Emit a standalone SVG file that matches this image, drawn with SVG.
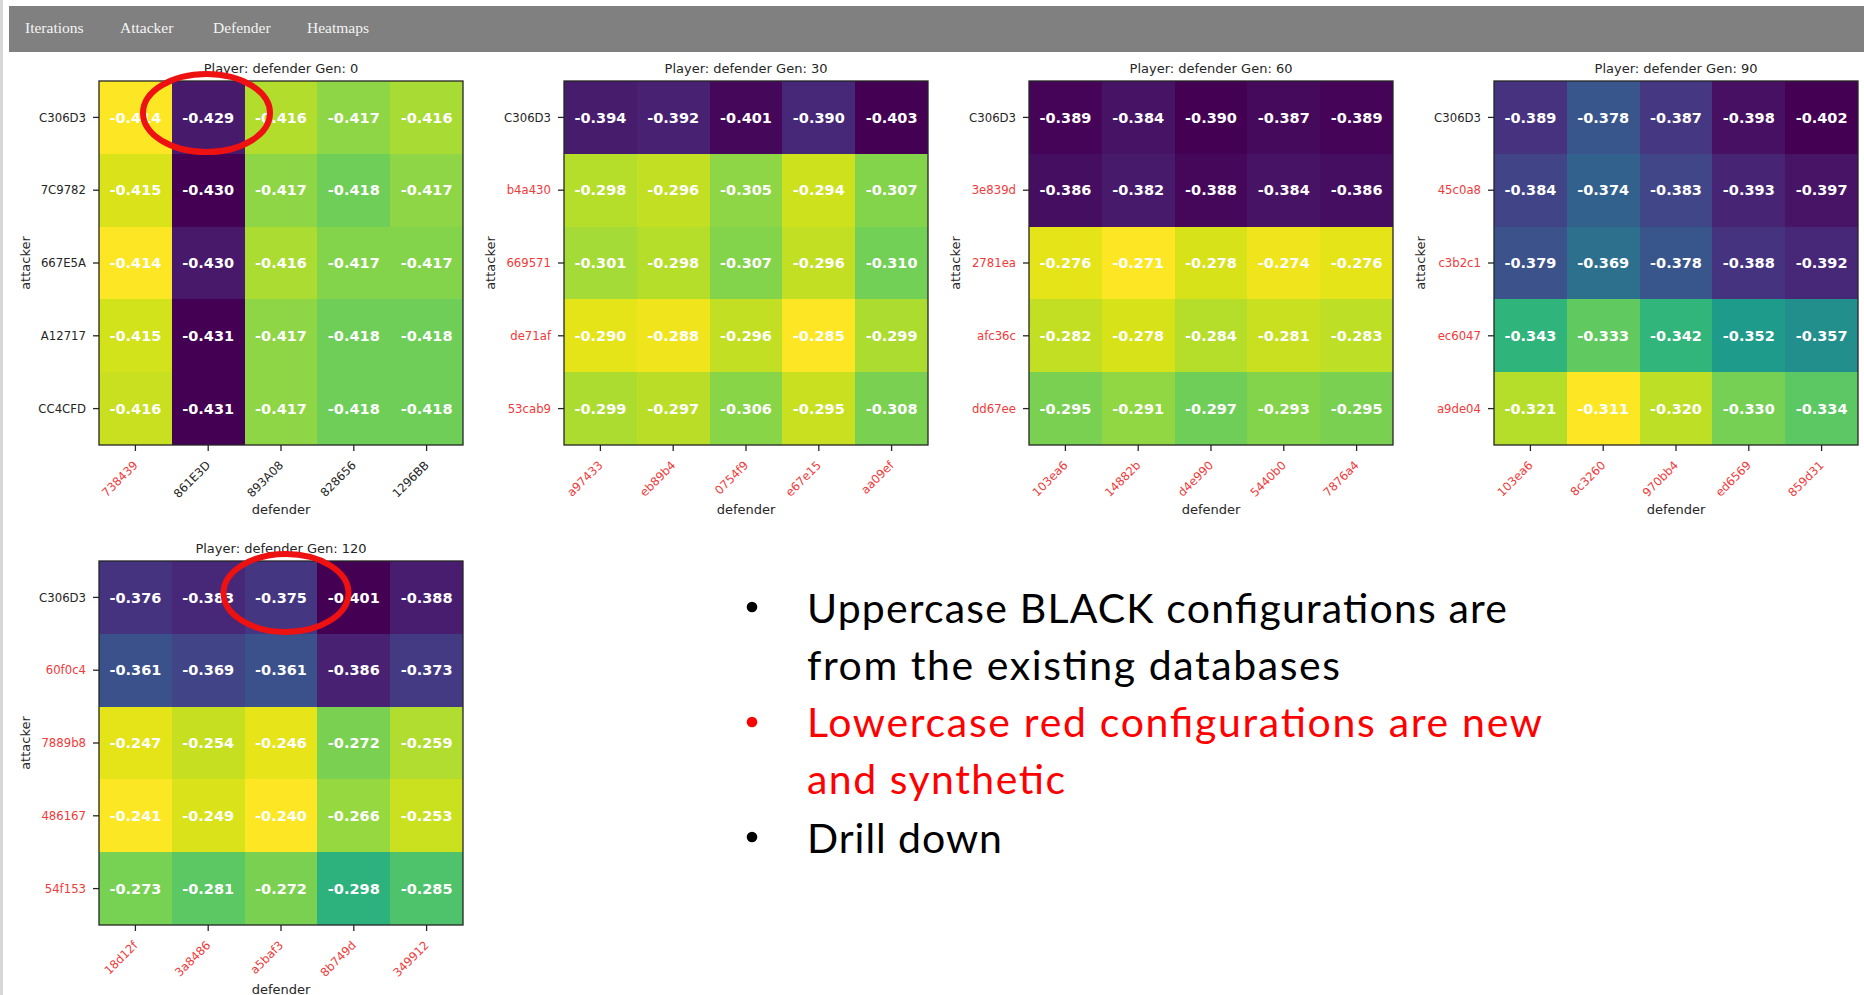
<svg xmlns="http://www.w3.org/2000/svg" width="1864" height="995" viewBox="0 0 1864 995">
<style>
.nav{font-family:"Liberation Serif",serif;font-size:15.5px;fill:#f4f4f4}
.v{font-family:"DejaVu Sans",sans-serif;font-weight:bold;font-size:14.5px;fill:#ffffff;text-anchor:middle}
.t{font-family:"DejaVu Sans",sans-serif;font-size:13px;fill:#262626;text-anchor:middle}
.ax{font-family:"DejaVu Sans",sans-serif;font-size:13px;fill:#262626;text-anchor:middle}
.rl{font-family:"DejaVu Sans",sans-serif;font-size:11.7px;fill:#262626;text-anchor:end}
.cl{font-family:"DejaVu Sans",sans-serif;font-size:11.7px;fill:#262626;text-anchor:end}
.red{fill:#f03a3a}
.frame{fill:none;stroke:#262626;stroke-width:1.3}
.tick{stroke:#262626;stroke-width:1.3}
.c rect{shape-rendering:crispEdges}
.ring{fill:none;stroke:#ee1111;stroke-width:6}
.b{font-family:Lato,"Open Sans",sans-serif;font-size:41px;fill:#000000}
.br{fill:#ff0000}
</style>
<defs>
<g id="ticks">
<line class="tick" x1="-6" y1="36.4" x2="0" y2="36.4"/>
<line class="tick" x1="-6" y1="109.2" x2="0" y2="109.2"/>
<line class="tick" x1="-6" y1="182" x2="0" y2="182"/>
<line class="tick" x1="-6" y1="254.8" x2="0" y2="254.8"/>
<line class="tick" x1="-6" y1="327.6" x2="0" y2="327.6"/>
<line class="tick" x1="36.4" y1="364" x2="36.4" y2="370"/>
<line class="tick" x1="109.2" y1="364" x2="109.2" y2="370"/>
<line class="tick" x1="182" y1="364" x2="182" y2="370"/>
<line class="tick" x1="254.8" y1="364" x2="254.8" y2="370"/>
<line class="tick" x1="327.6" y1="364" x2="327.6" y2="370"/>
<rect class="frame" x="0" y="0" width="364" height="364"/>
<text class="ax" x="182" y="433">defender</text>
<text class="ax" transform="translate(-69,182) rotate(-90)">attacker</text>
</g>
</defs>
<rect x="0" y="0" width="1864" height="995" fill="#ffffff"/>
<rect x="0" y="0" width="3" height="995" fill="#d6d6d6"/>
<g id="navbar">
<rect x="9" y="6" width="1855" height="46" fill="#808080"/>
<text class="nav" x="25" y="32.5">Iterations</text>
<text class="nav" x="120" y="32.5">Attacker</text>
<text class="nav" x="213" y="32.5">Defender</text>
<text class="nav" x="307" y="32.5">Heatmaps</text>
</g>

<g id="heatmap-gen0" transform="translate(99,81)">
<text class="t" x="182" y="-8.5">Player: defender Gen: 0</text>
<g class="c">
<rect x="0" y="0" width="73.3" height="73.3" fill="#fde725"/><rect x="72.8" y="0" width="73.3" height="73.3" fill="#481a6c"/><rect x="145.6" y="0" width="73.3" height="73.3" fill="#b2dd2d"/><rect x="218.4" y="0" width="73.3" height="73.3" fill="#8ed645"/><rect x="291.2" y="0" width="72.8" height="73.3" fill="#a8db34"/>
<rect x="0" y="72.8" width="73.3" height="73.3" fill="#dae319"/><rect x="72.8" y="72.8" width="73.3" height="73.3" fill="#440154"/><rect x="145.6" y="72.8" width="73.3" height="73.3" fill="#8ed645"/><rect x="218.4" y="72.8" width="73.3" height="73.3" fill="#6ece58"/><rect x="291.2" y="72.8" width="72.8" height="73.3" fill="#8ed645"/>
<rect x="0" y="145.6" width="73.3" height="73.3" fill="#fde725"/><rect x="72.8" y="145.6" width="73.3" height="73.3" fill="#48186a"/><rect x="145.6" y="145.6" width="73.3" height="73.3" fill="#aadc32"/><rect x="218.4" y="145.6" width="73.3" height="73.3" fill="#84d44b"/><rect x="291.2" y="145.6" width="72.8" height="73.3" fill="#84d44b"/>
<rect x="0" y="218.4" width="73.3" height="73.3" fill="#d2e21b"/><rect x="72.8" y="218.4" width="73.3" height="73.3" fill="#440154"/><rect x="145.6" y="218.4" width="73.3" height="73.3" fill="#8ed645"/><rect x="218.4" y="218.4" width="73.3" height="73.3" fill="#6ece58"/><rect x="291.2" y="218.4" width="72.8" height="73.3" fill="#6ece58"/>
<rect x="0" y="291.2" width="73.3" height="72.8" fill="#c8e020"/><rect x="72.8" y="291.2" width="73.3" height="72.8" fill="#440154"/><rect x="145.6" y="291.2" width="73.3" height="72.8" fill="#8ed645"/><rect x="218.4" y="291.2" width="73.3" height="72.8" fill="#6ece58"/><rect x="291.2" y="291.2" width="72.8" height="72.8" fill="#6ece58"/>
</g>
<text class="v" x="36.4" y="41.6">-0.414</text><text class="v" x="109.2" y="41.6">-0.429</text><text class="v" x="182" y="41.6">-0.416</text><text class="v" x="254.8" y="41.6">-0.417</text><text class="v" x="327.6" y="41.6">-0.416</text>
<text class="v" x="36.4" y="114.4">-0.415</text><text class="v" x="109.2" y="114.4">-0.430</text><text class="v" x="182" y="114.4">-0.417</text><text class="v" x="254.8" y="114.4">-0.418</text><text class="v" x="327.6" y="114.4">-0.417</text>
<text class="v" x="36.4" y="187.2">-0.414</text><text class="v" x="109.2" y="187.2">-0.430</text><text class="v" x="182" y="187.2">-0.416</text><text class="v" x="254.8" y="187.2">-0.417</text><text class="v" x="327.6" y="187.2">-0.417</text>
<text class="v" x="36.4" y="260">-0.415</text><text class="v" x="109.2" y="260">-0.431</text><text class="v" x="182" y="260">-0.417</text><text class="v" x="254.8" y="260">-0.418</text><text class="v" x="327.6" y="260">-0.418</text>
<text class="v" x="36.4" y="332.8">-0.416</text><text class="v" x="109.2" y="332.8">-0.431</text><text class="v" x="182" y="332.8">-0.417</text><text class="v" x="254.8" y="332.8">-0.418</text><text class="v" x="327.6" y="332.8">-0.418</text>
<use href="#ticks"/>
<text class="rl" x="-13" y="40.6">C306D3</text><text class="rl" x="-13" y="113.4">7C9782</text><text class="rl" x="-13" y="186.2">667E5A</text><text class="rl" x="-13" y="259">A12717</text><text class="rl" x="-13" y="331.8">CC4CFD</text>
<text class="cl red" transform="translate(39.4,385) rotate(-45)">738439</text>
<text class="cl" transform="translate(112.2,385) rotate(-45)">861E3D</text>
<text class="cl" transform="translate(185,385) rotate(-45)">893A08</text>
<text class="cl" transform="translate(257.8,385) rotate(-45)">828656</text>
<text class="cl" transform="translate(330.6,385) rotate(-45)">1296BB</text>
</g>

<g id="heatmap-gen30" transform="translate(564,81)">
<text class="t" x="182" y="-8.5">Player: defender Gen: 30</text>
<g class="c">
<rect x="0" y="0" width="73.3" height="73.3" fill="#481c6d"/><rect x="72.8" y="0" width="73.3" height="73.3" fill="#482172"/><rect x="145.6" y="0" width="73.3" height="73.3" fill="#45075a"/><rect x="218.4" y="0" width="73.3" height="73.3" fill="#472777"/><rect x="291.2" y="0" width="72.8" height="73.3" fill="#440154"/>
<rect x="0" y="72.8" width="73.3" height="73.3" fill="#b5de2b"/><rect x="72.8" y="72.8" width="73.3" height="73.3" fill="#c2df23"/><rect x="145.6" y="72.8" width="73.3" height="73.3" fill="#8ed645"/><rect x="218.4" y="72.8" width="73.3" height="73.3" fill="#cde11d"/><rect x="291.2" y="72.8" width="72.8" height="73.3" fill="#84d44b"/>
<rect x="0" y="145.6" width="73.3" height="73.3" fill="#a5db36"/><rect x="72.8" y="145.6" width="73.3" height="73.3" fill="#b5de2b"/><rect x="145.6" y="145.6" width="73.3" height="73.3" fill="#84d44b"/><rect x="218.4" y="145.6" width="73.3" height="73.3" fill="#c2df23"/><rect x="291.2" y="145.6" width="72.8" height="73.3" fill="#73d056"/>
<rect x="0" y="218.4" width="73.3" height="73.3" fill="#e5e419"/><rect x="72.8" y="218.4" width="73.3" height="73.3" fill="#f0e51c"/><rect x="145.6" y="218.4" width="73.3" height="73.3" fill="#c2df23"/><rect x="218.4" y="218.4" width="73.3" height="73.3" fill="#fde725"/><rect x="291.2" y="218.4" width="72.8" height="73.3" fill="#addc30"/>
<rect x="0" y="291.2" width="73.3" height="72.8" fill="#addc30"/><rect x="72.8" y="291.2" width="73.3" height="72.8" fill="#bade28"/><rect x="145.6" y="291.2" width="73.3" height="72.8" fill="#89d548"/><rect x="218.4" y="291.2" width="73.3" height="72.8" fill="#c8e020"/><rect x="291.2" y="291.2" width="72.8" height="72.8" fill="#7ad151"/>
</g>
<text class="v" x="36.4" y="41.6">-0.394</text><text class="v" x="109.2" y="41.6">-0.392</text><text class="v" x="182" y="41.6">-0.401</text><text class="v" x="254.8" y="41.6">-0.390</text><text class="v" x="327.6" y="41.6">-0.403</text>
<text class="v" x="36.4" y="114.4">-0.298</text><text class="v" x="109.2" y="114.4">-0.296</text><text class="v" x="182" y="114.4">-0.305</text><text class="v" x="254.8" y="114.4">-0.294</text><text class="v" x="327.6" y="114.4">-0.307</text>
<text class="v" x="36.4" y="187.2">-0.301</text><text class="v" x="109.2" y="187.2">-0.298</text><text class="v" x="182" y="187.2">-0.307</text><text class="v" x="254.8" y="187.2">-0.296</text><text class="v" x="327.6" y="187.2">-0.310</text>
<text class="v" x="36.4" y="260">-0.290</text><text class="v" x="109.2" y="260">-0.288</text><text class="v" x="182" y="260">-0.296</text><text class="v" x="254.8" y="260">-0.285</text><text class="v" x="327.6" y="260">-0.299</text>
<text class="v" x="36.4" y="332.8">-0.299</text><text class="v" x="109.2" y="332.8">-0.297</text><text class="v" x="182" y="332.8">-0.306</text><text class="v" x="254.8" y="332.8">-0.295</text><text class="v" x="327.6" y="332.8">-0.308</text>
<use href="#ticks"/>
<text class="rl" x="-13" y="40.6">C306D3</text><text class="rl red" x="-13" y="113.4">b4a430</text><text class="rl red" x="-13" y="186.2">669571</text><text class="rl red" x="-13" y="259">de71af</text><text class="rl red" x="-13" y="331.8">53cab9</text>
<text class="cl red" transform="translate(39.4,385) rotate(-45)">a97433</text>
<text class="cl red" transform="translate(112.2,385) rotate(-45)">eb89b4</text>
<text class="cl red" transform="translate(185,385) rotate(-45)">0754f9</text>
<text class="cl red" transform="translate(257.8,385) rotate(-45)">e67e15</text>
<text class="cl red" transform="translate(330.6,385) rotate(-45)">aa09ef</text>
</g>

<g id="heatmap-gen60" transform="translate(1029,81)">
<text class="t" x="182" y="-8.5">Player: defender Gen: 60</text>
<g class="c">
<rect x="0" y="0" width="73.3" height="73.3" fill="#450457"/><rect x="72.8" y="0" width="73.3" height="73.3" fill="#471365"/><rect x="145.6" y="0" width="73.3" height="73.3" fill="#440154"/><rect x="218.4" y="0" width="73.3" height="73.3" fill="#460a5d"/><rect x="291.2" y="0" width="72.8" height="73.3" fill="#450457"/>
<rect x="0" y="72.8" width="73.3" height="73.3" fill="#460e61"/><rect x="72.8" y="72.8" width="73.3" height="73.3" fill="#481a6c"/><rect x="145.6" y="72.8" width="73.3" height="73.3" fill="#45075a"/><rect x="218.4" y="72.8" width="73.3" height="73.3" fill="#471365"/><rect x="291.2" y="72.8" width="72.8" height="73.3" fill="#460e61"/>
<rect x="0" y="145.6" width="73.3" height="73.3" fill="#e5e419"/><rect x="72.8" y="145.6" width="73.3" height="73.3" fill="#fde725"/><rect x="145.6" y="145.6" width="73.3" height="73.3" fill="#d8e219"/><rect x="218.4" y="145.6" width="73.3" height="73.3" fill="#f0e51c"/><rect x="291.2" y="145.6" width="72.8" height="73.3" fill="#e5e419"/>
<rect x="0" y="218.4" width="73.3" height="73.3" fill="#c2df23"/><rect x="72.8" y="218.4" width="73.3" height="73.3" fill="#d8e219"/><rect x="145.6" y="218.4" width="73.3" height="73.3" fill="#b5de2b"/><rect x="218.4" y="218.4" width="73.3" height="73.3" fill="#c8e020"/><rect x="291.2" y="218.4" width="72.8" height="73.3" fill="#bddf26"/>
<rect x="0" y="291.2" width="73.3" height="72.8" fill="#7ad151"/><rect x="72.8" y="291.2" width="73.3" height="72.8" fill="#90d743"/><rect x="145.6" y="291.2" width="73.3" height="72.8" fill="#6ece58"/><rect x="218.4" y="291.2" width="73.3" height="72.8" fill="#84d44b"/><rect x="291.2" y="291.2" width="72.8" height="72.8" fill="#7ad151"/>
</g>
<text class="v" x="36.4" y="41.6">-0.389</text><text class="v" x="109.2" y="41.6">-0.384</text><text class="v" x="182" y="41.6">-0.390</text><text class="v" x="254.8" y="41.6">-0.387</text><text class="v" x="327.6" y="41.6">-0.389</text>
<text class="v" x="36.4" y="114.4">-0.386</text><text class="v" x="109.2" y="114.4">-0.382</text><text class="v" x="182" y="114.4">-0.388</text><text class="v" x="254.8" y="114.4">-0.384</text><text class="v" x="327.6" y="114.4">-0.386</text>
<text class="v" x="36.4" y="187.2">-0.276</text><text class="v" x="109.2" y="187.2">-0.271</text><text class="v" x="182" y="187.2">-0.278</text><text class="v" x="254.8" y="187.2">-0.274</text><text class="v" x="327.6" y="187.2">-0.276</text>
<text class="v" x="36.4" y="260">-0.282</text><text class="v" x="109.2" y="260">-0.278</text><text class="v" x="182" y="260">-0.284</text><text class="v" x="254.8" y="260">-0.281</text><text class="v" x="327.6" y="260">-0.283</text>
<text class="v" x="36.4" y="332.8">-0.295</text><text class="v" x="109.2" y="332.8">-0.291</text><text class="v" x="182" y="332.8">-0.297</text><text class="v" x="254.8" y="332.8">-0.293</text><text class="v" x="327.6" y="332.8">-0.295</text>
<use href="#ticks"/>
<text class="rl" x="-13" y="40.6">C306D3</text><text class="rl red" x="-13" y="113.4">3e839d</text><text class="rl red" x="-13" y="186.2">2781ea</text><text class="rl red" x="-13" y="259">afc36c</text><text class="rl red" x="-13" y="331.8">dd67ee</text>
<text class="cl red" transform="translate(39.4,385) rotate(-45)">103ea6</text>
<text class="cl red" transform="translate(112.2,385) rotate(-45)">14882b</text>
<text class="cl red" transform="translate(185,385) rotate(-45)">d4e990</text>
<text class="cl red" transform="translate(257.8,385) rotate(-45)">5440b0</text>
<text class="cl red" transform="translate(330.6,385) rotate(-45)">7876a4</text>
</g>

<g id="heatmap-gen90" transform="translate(1494,81)">
<text class="t" x="182" y="-8.5">Player: defender Gen: 90</text>
<g class="c">
<rect x="0" y="0" width="73.3" height="73.3" fill="#46327e"/><rect x="72.8" y="0" width="73.3" height="73.3" fill="#39568c"/><rect x="145.6" y="0" width="73.3" height="73.3" fill="#453781"/><rect x="218.4" y="0" width="73.3" height="73.3" fill="#471063"/><rect x="291.2" y="0" width="72.8" height="73.3" fill="#440154"/>
<rect x="0" y="72.8" width="73.3" height="73.3" fill="#414487"/><rect x="72.8" y="72.8" width="73.3" height="73.3" fill="#33618d"/><rect x="145.6" y="72.8" width="73.3" height="73.3" fill="#404688"/><rect x="218.4" y="72.8" width="73.3" height="73.3" fill="#482475"/><rect x="291.2" y="72.8" width="72.8" height="73.3" fill="#471466"/>
<rect x="0" y="145.6" width="73.3" height="73.3" fill="#3b528b"/><rect x="72.8" y="145.6" width="73.3" height="73.3" fill="#2d708e"/><rect x="145.6" y="145.6" width="73.3" height="73.3" fill="#39568c"/><rect x="218.4" y="145.6" width="73.3" height="73.3" fill="#46337f"/><rect x="291.2" y="145.6" width="72.8" height="73.3" fill="#472777"/>
<rect x="0" y="218.4" width="73.3" height="73.3" fill="#2fb47c"/><rect x="72.8" y="218.4" width="73.3" height="73.3" fill="#60ca60"/><rect x="145.6" y="218.4" width="73.3" height="73.3" fill="#31b57b"/><rect x="218.4" y="218.4" width="73.3" height="73.3" fill="#1e9b8a"/><rect x="291.2" y="218.4" width="72.8" height="73.3" fill="#228f8d"/>
<rect x="0" y="291.2" width="73.3" height="72.8" fill="#b5de2b"/><rect x="72.8" y="291.2" width="73.3" height="72.8" fill="#fde725"/><rect x="145.6" y="291.2" width="73.3" height="72.8" fill="#bddf26"/><rect x="218.4" y="291.2" width="73.3" height="72.8" fill="#75d054"/><rect x="291.2" y="291.2" width="72.8" height="72.8" fill="#5cc863"/>
</g>
<text class="v" x="36.4" y="41.6">-0.389</text><text class="v" x="109.2" y="41.6">-0.378</text><text class="v" x="182" y="41.6">-0.387</text><text class="v" x="254.8" y="41.6">-0.398</text><text class="v" x="327.6" y="41.6">-0.402</text>
<text class="v" x="36.4" y="114.4">-0.384</text><text class="v" x="109.2" y="114.4">-0.374</text><text class="v" x="182" y="114.4">-0.383</text><text class="v" x="254.8" y="114.4">-0.393</text><text class="v" x="327.6" y="114.4">-0.397</text>
<text class="v" x="36.4" y="187.2">-0.379</text><text class="v" x="109.2" y="187.2">-0.369</text><text class="v" x="182" y="187.2">-0.378</text><text class="v" x="254.8" y="187.2">-0.388</text><text class="v" x="327.6" y="187.2">-0.392</text>
<text class="v" x="36.4" y="260">-0.343</text><text class="v" x="109.2" y="260">-0.333</text><text class="v" x="182" y="260">-0.342</text><text class="v" x="254.8" y="260">-0.352</text><text class="v" x="327.6" y="260">-0.357</text>
<text class="v" x="36.4" y="332.8">-0.321</text><text class="v" x="109.2" y="332.8">-0.311</text><text class="v" x="182" y="332.8">-0.320</text><text class="v" x="254.8" y="332.8">-0.330</text><text class="v" x="327.6" y="332.8">-0.334</text>
<use href="#ticks"/>
<text class="rl" x="-13" y="40.6">C306D3</text><text class="rl red" x="-13" y="113.4">45c0a8</text><text class="rl red" x="-13" y="186.2">c3b2c1</text><text class="rl red" x="-13" y="259">ec6047</text><text class="rl red" x="-13" y="331.8">a9de04</text>
<text class="cl red" transform="translate(39.4,385) rotate(-45)">103ea6</text>
<text class="cl red" transform="translate(112.2,385) rotate(-45)">8c3260</text>
<text class="cl red" transform="translate(185,385) rotate(-45)">970bb4</text>
<text class="cl red" transform="translate(257.8,385) rotate(-45)">ed6569</text>
<text class="cl red" transform="translate(330.6,385) rotate(-45)">859d31</text>
</g>

<g id="heatmap-gen120" transform="translate(99,561)">
<text class="t" x="182" y="-8.5">Player: defender Gen: 120</text>
<g class="c">
<rect x="0" y="0" width="73.3" height="73.3" fill="#46337f"/><rect x="72.8" y="0" width="73.3" height="73.3" fill="#472878"/><rect x="145.6" y="0" width="73.3" height="73.3" fill="#453681"/><rect x="218.4" y="0" width="73.3" height="73.3" fill="#440154"/><rect x="291.2" y="0" width="72.8" height="73.3" fill="#481d6f"/>
<rect x="0" y="72.8" width="73.3" height="73.3" fill="#3b518b"/><rect x="72.8" y="72.8" width="73.3" height="73.3" fill="#414487"/><rect x="145.6" y="72.8" width="73.3" height="73.3" fill="#3b518b"/><rect x="218.4" y="72.8" width="73.3" height="73.3" fill="#482172"/><rect x="291.2" y="72.8" width="72.8" height="73.3" fill="#443a83"/>
<rect x="0" y="145.6" width="73.3" height="73.3" fill="#e4e419"/><rect x="72.8" y="145.6" width="73.3" height="73.3" fill="#c6e021"/><rect x="145.6" y="145.6" width="73.3" height="73.3" fill="#e8e41a"/><rect x="218.4" y="145.6" width="73.3" height="73.3" fill="#7ad151"/><rect x="291.2" y="145.6" width="72.8" height="73.3" fill="#b0dd2f"/>
<rect x="0" y="218.4" width="73.3" height="73.3" fill="#fbe723"/><rect x="72.8" y="218.4" width="73.3" height="73.3" fill="#dae319"/><rect x="145.6" y="218.4" width="73.3" height="73.3" fill="#fde725"/><rect x="218.4" y="218.4" width="73.3" height="73.3" fill="#95d840"/><rect x="291.2" y="218.4" width="72.8" height="73.3" fill="#cae11f"/>
<rect x="0" y="291.2" width="73.3" height="72.8" fill="#77d153"/><rect x="72.8" y="291.2" width="73.3" height="72.8" fill="#5cc863"/><rect x="145.6" y="291.2" width="73.3" height="72.8" fill="#7ad151"/><rect x="218.4" y="291.2" width="73.3" height="72.8" fill="#2db27d"/><rect x="291.2" y="291.2" width="72.8" height="72.8" fill="#4ec36b"/>
</g>
<text class="v" x="36.4" y="41.6">-0.376</text><text class="v" x="109.2" y="41.6">-0.383</text><text class="v" x="182" y="41.6">-0.375</text><text class="v" x="254.8" y="41.6">-0.401</text><text class="v" x="327.6" y="41.6">-0.388</text>
<text class="v" x="36.4" y="114.4">-0.361</text><text class="v" x="109.2" y="114.4">-0.369</text><text class="v" x="182" y="114.4">-0.361</text><text class="v" x="254.8" y="114.4">-0.386</text><text class="v" x="327.6" y="114.4">-0.373</text>
<text class="v" x="36.4" y="187.2">-0.247</text><text class="v" x="109.2" y="187.2">-0.254</text><text class="v" x="182" y="187.2">-0.246</text><text class="v" x="254.8" y="187.2">-0.272</text><text class="v" x="327.6" y="187.2">-0.259</text>
<text class="v" x="36.4" y="260">-0.241</text><text class="v" x="109.2" y="260">-0.249</text><text class="v" x="182" y="260">-0.240</text><text class="v" x="254.8" y="260">-0.266</text><text class="v" x="327.6" y="260">-0.253</text>
<text class="v" x="36.4" y="332.8">-0.273</text><text class="v" x="109.2" y="332.8">-0.281</text><text class="v" x="182" y="332.8">-0.272</text><text class="v" x="254.8" y="332.8">-0.298</text><text class="v" x="327.6" y="332.8">-0.285</text>
<use href="#ticks"/>
<text class="rl" x="-13" y="40.6">C306D3</text><text class="rl red" x="-13" y="113.4">60f0c4</text><text class="rl red" x="-13" y="186.2">7889b8</text><text class="rl red" x="-13" y="259">486167</text><text class="rl red" x="-13" y="331.8">54f153</text>
<text class="cl red" transform="translate(39.4,385) rotate(-45)">18d12f</text>
<text class="cl red" transform="translate(112.2,385) rotate(-45)">3a8486</text>
<text class="cl red" transform="translate(185,385) rotate(-45)">a5baf3</text>
<text class="cl red" transform="translate(257.8,385) rotate(-45)">8b749d</text>
<text class="cl red" transform="translate(330.6,385) rotate(-45)">349912</text>
</g>

<g id="highlights">
<ellipse class="ring" cx="206.5" cy="113" rx="63.5" ry="39"/>
<ellipse class="ring" cx="286" cy="593" rx="62.5" ry="39"/>
</g>

<g id="notes">
<circle cx="752" cy="607" r="5.3" fill="#000000"/>
<text class="b" x="807" y="623" textLength="700" lengthAdjust="spacing">Uppercase BLACK configurations are</text>
<text class="b" x="807" y="680" textLength="533" lengthAdjust="spacing">from the existing databases</text>
<circle cx="752" cy="722" r="5.3" fill="#ff0000"/>
<text class="b br" x="807" y="737" textLength="735" lengthAdjust="spacing">Lowercase red configurations are new</text>
<text class="b br" x="807" y="794" textLength="258" lengthAdjust="spacing">and synthetic</text>
<circle cx="752" cy="837" r="5.3" fill="#000000"/>
<text class="b" x="807" y="853" textLength="195" lengthAdjust="spacing">Drill down</text>
</g>
</svg>
